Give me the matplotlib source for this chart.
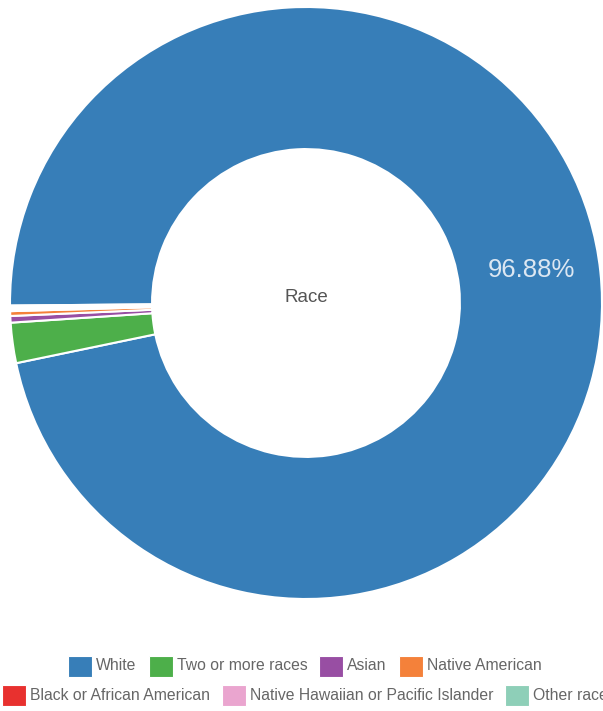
import matplotlib.pyplot as plt
from matplotlib.patches import Rectangle

plt.rcParams['font.family'] = ['Liberation Sans', 'DejaVu Sans']

labels = ['White', 'Two or more races', 'Asian', 'Native American',
          'Black or African American', 'Native Hawaiian or Pacific Islander',
          'Other race']
values = [96.88, 2.20, 0.36, 0.26, 0.10, 0.10, 0.10]
colors = ['#377eb8', '#4daf4a', '#984ea3', '#f4813a',
          '#e8312f', '#eaa5cf', '#8ecfb8']
legend_rows = [labels[:4], labels[4:]]

W, H = 603, 711
fig = plt.figure(figsize=(W / 100, H / 100), dpi=100)

# doughnut, centred at (306, 303) px with a 296 px radius
ax = fig.add_axes([10 / W, (H - 599) / H, 592 / W, 592 / H])
wedges, texts, autotexts = ax.pie(
    values, colors=colors, startangle=180.5, counterclock=False,
    wedgeprops=dict(width=0.48, edgecolor='white', linewidth=1.5),
    autopct=lambda p: f'{p:.2f}%' if p > 50 else '',
    pctdistance=0.76,
)
for t in autotexts:
    t.set_color('#dce7f2')
    t.set_fontsize(18.5)
    x, y = t.get_position()
    t.set_position((x + 0.005, y + 0.03))
ax.set_xlim(-1, 1)
ax.set_ylim(-1, 1)
ax.text(0, 0.017, 'Race', ha='center', va='center', fontsize=13.5, color='#555555')

# legend laid out row by row, centred like the chart.js legend
renderer = fig.canvas.get_renderer()
box_w, box_h, pad, gap = 24, 21, 4, 12
row_y = [666, 695]
cx = 305
for row, y in zip(legend_rows, row_y):
    items = []
    for name in row:
        t = fig.text(0, 0, name, fontsize=11.3, color='#666666', va='center')
        w = t.get_window_extent(renderer).width
        items.append((name, t, w))
    total = sum(box_w + pad + w for _, _, w in items) + gap * (len(items) - 1)
    x = cx - total / 2
    for name, t, w in items:
        c = colors[labels.index(name)]
        fig.add_artist(Rectangle((x / W, (H - y - box_h / 2) / H), box_w / W, box_h / H,
                                 transform=fig.transFigure, facecolor=c,
                                 edgecolor='white', linewidth=0.8))
        t.set_position(((x + box_w + pad) / W, (H - y) / H))
        x += box_w + pad + w + gap

fig.savefig('out.png', dpi=100)
